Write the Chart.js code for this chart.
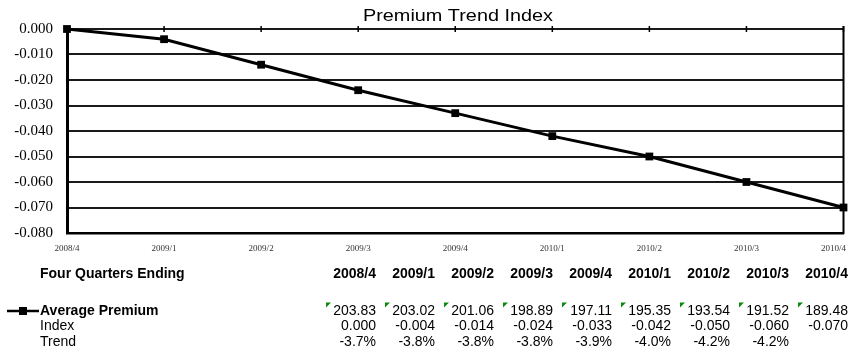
<!DOCTYPE html>
<html>
<head>
<meta charset="utf-8">
<script src="https://cdn.jsdelivr.net/npm/chart.js@4/dist/chart.umd.min.js"></script>
<style>
  html, body { margin: 0; padding: 0; background: #fff; }
  #wrap { width: 849px; height: 356px; position: relative; }
</style>
</head>
<body>
<div id="wrap"><canvas id="c" width="849" height="356"></canvas></div>
<script>
const quarters = ["2008/4","2009/1","2009/2","2009/3","2009/4","2010/1","2010/2","2010/3","2010/4"];
const indexValues = [0.000, -0.004, -0.014, -0.024, -0.033, -0.042, -0.050, -0.060, -0.070];
const avgPremium = ["203.83","203.02","201.06","198.89","197.11","195.35","193.54","191.52","189.48"];
const trendLabels = ["-3.7%","-3.8%","-3.8%","-3.8%","-3.9%","-4.0%","-4.2%","-4.2%",""];
const yTicks = [0, -0.01, -0.02, -0.03, -0.04, -0.05, -0.06, -0.07, -0.08];

const SANS = '"Liberation Sans", Arial, sans-serif';
const SERIF = '"Liberation Serif", "Times New Roman", serif';

// extra drawing: title, top tick marks, right border, x labels, data table
const extras = {
  id: "extras",
  afterDraw(chart) {
    const c = chart.ctx;
    const a = chart.chartArea;
    const x = chart.scales.x, y = chart.scales.y;
    c.save();
    // title (the original is a bit wide, so stretch it)
    c.fillStyle = "#000";
    c.font = "17px " + SANS;
    c.textAlign = "center";
    c.textBaseline = "alphabetic";
    const title = "Premium Trend Index";
    const tw = c.measureText(title).width;
    c.save();
    c.translate(458, 21);
    c.scale(190 / tw, 1);
    c.fillText(title, 0, 0);
    c.restore();

    // right border
    c.strokeStyle = "#000";
    c.lineWidth = 2;
    c.beginPath();
    c.moveTo(a.right, a.top - 3);
    c.lineTo(a.right, a.bottom + 1);
    c.stroke();

    // ticks on zero line
    const y0 = y.getPixelForValue(0);
    c.lineWidth = 1.5;
    quarters.forEach((q, i) => {
      const px = x.getPixelForValue(i);
      c.beginPath();
      c.moveTo(px, y0 - 3);
      c.lineTo(px, y0 + 3);
      c.stroke();
    });

    // category labels under plot
    c.font = "9px " + SERIF;
    c.fillStyle = "#333";
    c.textBaseline = "middle";
    quarters.forEach((q, i) => {
      let px = x.getPixelForValue(i);
      const w = c.measureText(q).width;
      px = Math.min(px, chart.width - 3 - w / 2);
      c.textAlign = "center";
      c.fillText(q, px, 249);
    });

    // table
    const colRight = quarters.map((q, i) => 376 + 59 * i);
    c.fillStyle = "#000";
    c.font = "bold 14px " + SANS;
    c.textAlign = "left";
    c.fillText("Four Quarters Ending", 40, 274);
    c.textAlign = "right";
    quarters.forEach((q, i) => c.fillText(q, colRight[i], 274));

    c.textAlign = "left";
    c.fillText("Average Premium", 40, 311);
    c.font = "14px " + SANS;
    c.fillText("Index", 40, 326);
    c.fillText("Trend", 40, 342);

    // legend key
    c.lineWidth = 2.5;
    c.beginPath();
    c.moveTo(7, 311);
    c.lineTo(39, 311);
    c.stroke();
    c.fillRect(19, 307, 8, 8);

    c.textAlign = "right";
    quarters.forEach((q, i) => {
      c.fillStyle = "#000";
      c.fillText(avgPremium[i], colRight[i], 311);
      c.fillText(indexValues[i].toFixed(3), colRight[i], 326);
      if (trendLabels[i]) c.fillText(trendLabels[i], colRight[i], 342);
      // comment markers
      const tx = colRight[i] - 50;
      c.fillStyle = "#0a8a0a";
      c.beginPath();
      c.moveTo(tx, 302.5);
      c.lineTo(tx + 5, 302.5);
      c.lineTo(tx, 307.5);
      c.closePath();
      c.fill();
    });
    c.restore();
  }
};

new Chart(document.getElementById("c"), {
  type: "line",
  data: {
    labels: quarters,
    datasets: [{
      label: "Average Premium",
      data: indexValues,
      borderColor: "#000",
      backgroundColor: "#000",
      borderWidth: 3,
      pointStyle: "rect",
      pointRadius: 5.5,
      pointBorderWidth: 0,
      tension: 0,
      clip: false
    }]
  },
  options: {
    responsive: false,
    animation: false,
    layout: { padding: { top: 29, right: 1, left: 0, bottom: 0 } },
    plugins: { legend: { display: false }, title: { display: false }, tooltip: { enabled: false } },
    scales: {
      x: {
        offset: false,
        grid: { display: false },
        border: { color: "#000", width: 2.5 },
        ticks: { display: false },
        afterFit(s) { s.height = 356 - 233; }
      },
      y: {
        min: -0.08,
        max: 0,
        afterBuildTicks(s) { s.ticks = yTicks.map(v => ({ value: v })); },
        grid: { color: "#1a1a1a", lineWidth: 2, drawTicks: false },
        border: { color: "#000", width: 3 },
        ticks: {
          color: "#000",
          padding: 14,
          font: { family: SERIF, size: 15 },
          callback: v => v.toFixed(3)
        },
        afterFit(s) { s.width = 67; }
      }
    }
  },
  plugins: [extras]
});
</script>
</body>
</html>
